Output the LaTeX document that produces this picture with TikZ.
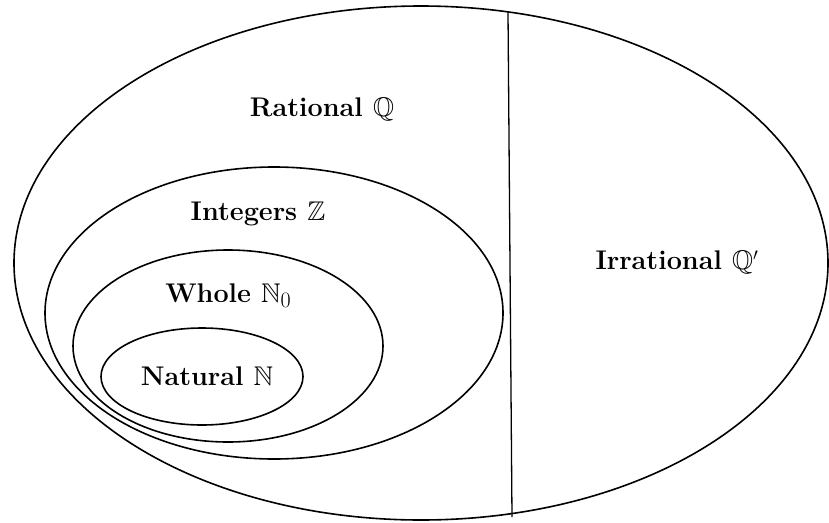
\documentclass[tikz,border=0pt]{standalone}
\usepackage{amssymb}
\usepackage{fontspec}
\newcommand{\subzero}{\raisebox{-4.5pt}{\fontsize{22}{24}\selectfont\mdseries 0}}
\begin{document}
\begin{tikzpicture}[x=1pt,y=-1pt,
  setline/.style={line width=1.6pt},
  divline/.style={line width=1.3pt},
  setlabel/.style={font=\fontsize{27}{32}\selectfont\bfseries, inner sep=0pt}]
\useasboundingbox (0,0) rectangle (829,522);
% outer ellipse (Rational + Irrational)
\draw[setline] (421,263) ellipse [x radius=407, y radius=257];
% Integers
\draw[setline] (274,313) ellipse [x radius=229, y radius=146];
% Whole
\draw[setline] (228,346) ellipse [x radius=155, y radius=96];
% Natural
\draw[setline] (202,376.5) ellipse [x radius=101, y radius=48.5];
% dividing line
\coordinate (ltop) at (508,12);
\coordinate (lbot) at (512,517);
\draw[divline] (ltop) -- (lbot);
% labels
\node[setlabel] (rat) at (322,109) {Rational $\mathbb{Q}$};
\node[setlabel] (irr) at (677,262) {Irrational $\mathbb{Q}'$};
\node[setlabel] (int) at (258,214) {Integers $\mathbb{Z}$};
\node[setlabel] (who) at (228,296) {Whole $\mathbb{N}$\subzero};
\node[setlabel] (nat) at (207,376) {Natural $\mathbb{N}$};
\end{tikzpicture}
\end{document}
